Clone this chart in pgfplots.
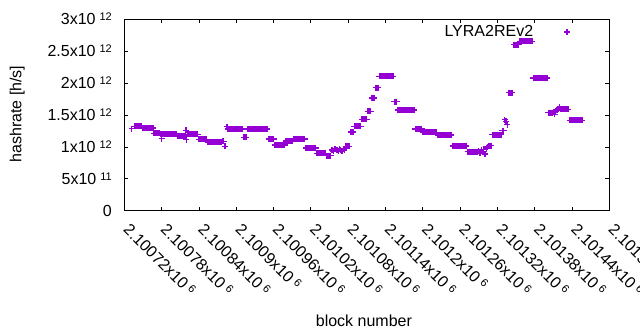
\documentclass[border=0pt]{standalone}
\usepackage{pgfplots}
\pgfplotsset{compat=1.18}
\usepackage{fontspec}
\setmainfont{Liberation Sans}
\definecolor{gp}{RGB}{148,0,211}
\newcommand{\sx}[2]{#1x10\hspace{4bp}\smash{\raisebox{4bp}{\fontsize{11bp}{11bp}\selectfont #2}}}
\newcommand{\xl}[1]{\hspace{12.9bp}\raisebox{-15.4bp}{\sx{#1}{6}}}
\begin{document}
\fontsize{16bp}{19bp}\selectfont
\begin{tikzpicture}
\useasboundingbox (0,0) rectangle (640bp,330bp);
\begin{axis}[
  at={(124.3bp,119.3bp)}, anchor=south west,
  scale only axis, width=485bp, height=191.4bp,
  xmin=720, xmax=1500, ymin=0, ymax=3,
  enlargelimits=false,
  xtick={720,780,840,900,960,1020,1080,1140,1200,1260,1320,1380,1440,1500},
  xticklabels={\xl{2.10072},\xl{2.10078},\xl{2.10084},\xl{2.1009},\xl{2.10096},\xl{2.10102},\xl{2.10108},\xl{2.10114},\xl{2.1012},\xl{2.10126},\xl{2.10132},\xl{2.10138},\xl{2.10144},\xl{2.1015}},
  ytick={0,0.5,1,1.5,2,2.5,3},
  yticklabels={0,\sx{5}{11},\sx{1}{12},\sx{1.5}{12},\sx{2}{12},\sx{2.5}{12},\sx{3}{12}},
  tick pos=both, tick align=inside,
  major tick length=4bp,
  tick style={black, line width=0.8bp},
  axis line style={black, line width=0.9bp},
  yticklabel style={anchor=east, inner sep=0pt, xshift=-12.3bp},
  xticklabel style={rotate=-45, anchor=base west, inner sep=0pt},
  xlabel={block number},
  ylabel={hashrate [h/s]},
  xlabel style={at={(axis description cs:0.494,-0.575)}, anchor=center, inner sep=0pt},
  ylabel style={at={(axis description cs:-0.221,0.505)}, anchor=center, inner sep=0pt},
  legend plot pos=right,
  legend style={draw=none, fill=none, at={(0.9197,0.934)}, anchor=east, inner sep=0pt, column sep=29bp},
]
\addplot[only marks, mark=+, color=gp, mark size=3bp, mark options={line width=1.3bp}] coordinates {
(732,1.285)
(736,1.324)(738,1.324)(740,1.324)(742,1.324)(744,1.324)(746,1.324)(748,1.324)
(750,1.296)(752,1.296)(754,1.296)(756,1.296)(758,1.296)(760,1.296)(762,1.296)(764,1.296)(766,1.296)
(768,1.214)(770,1.214)(772,1.214)(774,1.214)(776,1.214)
(778,1.196)(780,1.196)(782,1.196)(784,1.196)(786,1.196)(788,1.196)(790,1.196)(792,1.196)(794,1.196)(796,1.196)(798,1.196)(800,1.196)(802,1.196)(804,1.196)(780,1.13)
(806,1.171)(808,1.171)(810,1.171)(812,1.171)(814,1.171)(816,1.171)(818,1.171)
(819,1.258)(820,1.113)
(822,1.199)(824,1.199)(826,1.199)(828,1.199)(830,1.199)(832,1.199)(834,1.199)(836,1.199)(838,1.199)
(840,1.117)(842,1.117)(844,1.117)(846,1.117)(848,1.117)(850,1.117)(852,1.117)
(854,1.070)(856,1.070)(858,1.070)(860,1.070)(862,1.070)(864,1.070)(866,1.070)(868,1.070)(870,1.070)(872,1.070)(874,1.070)(876,1.070)
(878,1.086)(880,1.086)(882,1.008)
(885,1.316)
(886,1.280)(888,1.280)(890,1.280)(892,1.280)(894,1.280)(896,1.280)(898,1.280)(900,1.280)(902,1.280)(904,1.280)(906,1.280)(908,1.280)(910,1.280)
(912,1.149)(914,1.149)(916,1.149)
(918,1.280)(920,1.280)(922,1.280)(924,1.280)(926,1.280)(928,1.280)(930,1.280)(932,1.280)(934,1.280)(936,1.280)(938,1.280)(940,1.280)(942,1.280)(944,1.280)(946,1.280)(948,1.280)(950,1.280)
(952,1.124)(954,1.124)(956,1.124)(958,1.124)(960,1.124)
(962,1.030)(964,1.030)(966,1.030)(968,1.030)(970,1.030)(972,1.030)(974,1.030)(976,1.030)(978,1.030)
(980,1.092)(982,1.092)(984,1.092)(986,1.092)(988,1.092)(990,1.092)
(992,1.124)(994,1.124)(996,1.124)(998,1.124)(1000,1.124)(1002,1.124)(1004,1.124)(1006,1.124)(1008,1.124)(1010,1.124)
(1012,0.983)(1014,0.983)(1016,0.983)(1018,0.983)(1020,0.983)(1022,0.983)(1024,0.983)(1026,0.983)(1028,0.983)
(1030,0.901)(1032,0.901)(1034,0.901)(1036,0.901)(1038,0.901)(1040,0.901)(1042,0.901)(1044,0.901)
(1046,0.862)(1048,0.862)(1050,0.862)(1052,0.862)
(1054,0.95)(1056,0.93)(1058,0.96)(1060,0.97)(1062,0.95)(1064,0.94)(1066,0.96)(1068,0.95)(1070,0.93)(1072,0.96)(1074,0.95)
(1076,1.011)(1078,1.011)(1080,1.011)(1082,1.011)
(1084,1.233)(1086,1.233)(1088,1.233)
(1090,1.324)(1092,1.324)(1094,1.324)(1096,1.324)(1098,1.324)(1100,1.324)
(1102,1.434)(1104,1.434)(1106,1.434)(1108,1.434)(1110,1.434)
(1112,1.559)(1114,1.559)(1116,1.559)
(1118,1.766)(1120,1.766)(1122,1.766)
(1124,1.927)(1126,1.927)(1128,1.927)
(1130,2.108)(1132,2.108)(1134,2.108)(1136,2.108)(1138,2.108)(1140,2.108)(1142,2.108)(1144,2.108)(1146,2.108)(1148,2.108)(1150,2.108)(1152,2.108)
(1154,1.708)(1156,1.708)(1158,1.708)
(1160,1.578)(1162,1.578)(1164,1.578)(1166,1.578)(1168,1.578)(1170,1.578)(1172,1.578)(1174,1.578)(1176,1.578)(1178,1.578)(1180,1.578)(1182,1.578)(1184,1.578)(1186,1.578)
(1188,1.280)(1190,1.280)(1192,1.280)(1194,1.280)(1196,1.280)(1198,1.280)
(1200,1.230)(1202,1.230)(1204,1.230)(1206,1.230)(1208,1.230)(1210,1.230)(1212,1.230)(1214,1.230)(1216,1.230)(1218,1.230)(1220,1.230)(1222,1.230)
(1224,1.186)(1226,1.186)(1228,1.186)(1230,1.186)(1232,1.186)(1234,1.186)(1236,1.186)(1238,1.186)(1240,1.186)(1242,1.186)(1244,1.186)(1246,1.186)
(1248,1.014)(1250,1.014)(1252,1.014)(1254,1.014)(1256,1.014)(1258,1.014)(1260,1.014)(1262,1.014)(1264,1.014)(1266,1.014)(1268,1.014)(1270,1.014)
(1272,0.925)(1274,0.925)(1276,0.925)(1278,0.925)(1280,0.925)(1282,0.925)(1284,0.925)(1286,0.925)(1288,0.925)
(1290,0.94)(1292,0.90)(1294,0.95)(1296,0.92)(1298,0.96)(1300,0.89)(1302,0.97)(1304,1.00)
(1306,1.019)(1308,1.019)(1310,1.019)
(1312,1.191)(1314,1.191)(1316,1.191)(1318,1.191)(1320,1.191)(1322,1.191)(1324,1.191)(1326,1.191)
(1328,1.254)(1330,1.254)(1332,1.426)(1334,1.40)(1336,1.348)
(1338,1.849)(1340,1.849)(1342,1.849)(1344,1.849)
(1346,2.601)(1348,2.601)(1350,2.601)(1352,2.601)(1354,2.601)
(1356,2.653)(1358,2.653)(1360,2.653)(1362,2.653)(1364,2.653)(1366,2.653)(1368,2.653)(1370,2.653)(1372,2.653)(1374,2.653)(1376,2.653)
(1378,2.079)(1380,2.079)(1382,2.079)(1384,2.079)(1386,2.079)(1388,2.079)(1390,2.079)(1392,2.079)(1394,2.079)(1396,2.079)(1398,2.079)(1400,2.079)
(1402,1.535)(1404,1.535)(1406,1.535)(1408,1.535)
(1410,1.55)(1412,1.51)(1414,1.56)(1416,1.58)(1418,1.60)(1420,1.63)
(1422,1.587)(1424,1.587)(1426,1.587)(1428,1.587)(1430,1.587)(1432,1.587)(1434,1.587)
(1436,1.415)(1438,1.415)(1440,1.415)(1442,1.415)(1444,1.415)(1446,1.415)(1448,1.415)(1450,1.415)(1452,1.415)(1454,1.415)(1456,1.415)
};
\addlegendentry{LYRA2REv2}
\end{axis}
\end{tikzpicture}
\end{document}
